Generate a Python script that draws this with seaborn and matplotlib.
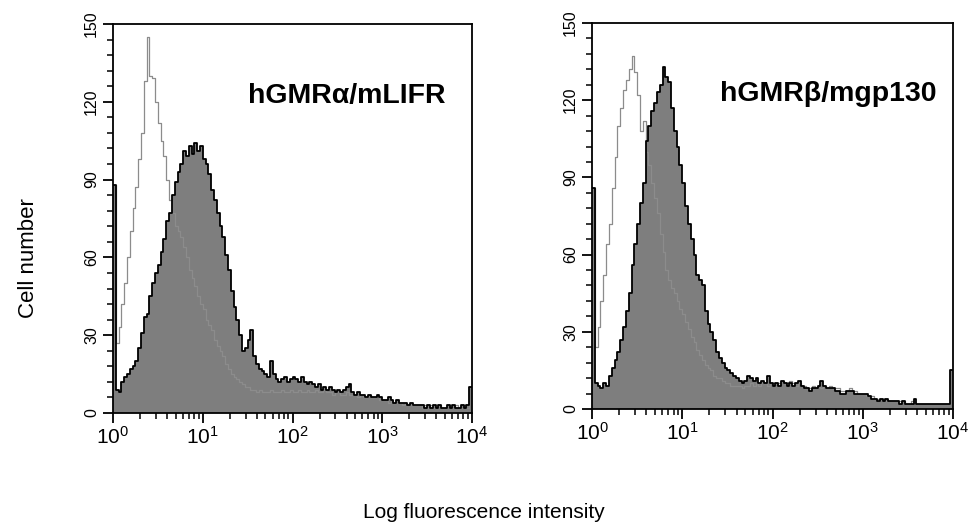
import numpy as np
import seaborn as sns
import matplotlib.pyplot as plt
from matplotlib.ticker import MultipleLocator, LogLocator

# counts per channel, 32 channels per decade, 10^0 .. 10^4
alpha_stained = [
    88, 9, 8, 12, 14, 15, 17, 18, 20, 25, 31, 37, 38, 45, 50, 54,
    57, 62, 67, 74, 77, 84, 89, 93, 96, 101, 99, 103, 100, 104, 101, 103,
    98, 96, 92, 86, 82, 77, 72, 68, 61, 55, 47, 41, 36, 30, 24, 25,
    28, 32, 22, 19, 17, 16, 15, 14, 20, 15, 13, 12, 13, 14, 12, 13,
    14, 13, 12, 14, 12, 11, 12, 11, 10, 11, 9, 10, 9, 10, 9, 8,
    9, 8, 9, 10, 11, 8, 7, 8, 7, 7, 6, 7, 6, 6, 7, 6,
    5, 5, 6, 5, 4, 5, 4, 4, 4, 3, 4, 3, 3, 3, 3, 2,
    3, 2, 3, 2, 3, 2, 2, 3, 2, 3, 2, 2, 3, 2, 3, 10,
]
alpha_control = [
    88, 27, 33, 42, 50, 60, 70, 79, 87, 98, 108, 128, 145, 130, 129, 120,
    112, 105, 99, 90, 82, 77, 72, 70, 68, 64, 60, 55, 52, 49, 45, 42,
    40, 36, 34, 32, 28, 26, 24, 22, 19, 17, 15, 14, 13, 12, 11, 10,
    10, 9, 9, 8, 9, 8, 8, 8, 9, 8, 8, 8, 9, 8, 8, 9,
    8, 8, 9, 8, 8, 9, 8, 8, 9, 8, 8, 9, 8, 8, 7, 8,
    8, 7, 7, 8, 7, 7, 7, 6, 7, 6, 6, 7, 6, 6, 6, 5,
    5, 5, 4, 5, 4, 4, 4, 3, 4, 3, 3, 3, 3, 3, 2, 3,
    2, 3, 2, 2, 3, 2, 2, 3, 2, 2, 3, 2, 2, 3, 2, 10,
]
beta_stained = [
    86, 10, 9, 8, 10, 9, 13, 16, 19, 22, 27, 32, 38, 45, 56, 64,
    72, 80, 88, 104, 110, 116, 119, 123, 126, 133, 129, 127, 117, 108, 102, 95,
    88, 79, 72, 66, 60, 52, 50, 48, 38, 33, 30, 27, 22, 20, 18, 16,
    15, 14, 13, 12, 11, 10, 11, 13, 12, 11, 12, 10, 11, 10, 13, 10,
    9, 10, 9, 11, 10, 9, 10, 9, 10, 11, 9, 8, 8, 7, 8, 8,
    9, 11, 9, 8, 8, 8, 7, 7, 6, 6, 7, 7, 7, 6, 6, 6,
    6, 6, 5, 4, 4, 3, 4, 3, 4, 3, 3, 3, 3, 2, 3, 2,
    2, 2, 4, 2, 2, 2, 2, 2, 2, 2, 2, 2, 2, 2, 2, 15,
]
beta_control = [
    86, 24, 32, 42, 52, 64, 72, 86, 98, 110, 117, 124, 128, 132, 137, 131,
    122, 108, 112, 100, 95, 88, 82, 76, 68, 61, 54, 50, 47, 45, 42, 39,
    37, 34, 31, 28, 26, 23, 21, 19, 17, 16, 15, 13, 12, 12, 11, 10,
    10, 9, 9, 9, 9, 8, 9, 9, 10, 9, 10, 9, 10, 10, 9, 10,
    10, 9, 10, 11, 10, 10, 11, 10, 9, 10, 9, 9, 8, 8, 9, 8,
    9, 8, 9, 8, 9, 8, 8, 8, 7, 7, 7, 8, 7, 7, 6, 6,
    6, 5, 5, 5, 4, 4, 4, 4, 3, 3, 3, 3, 3, 3, 3, 2,
    2, 3, 2, 2, 2, 2, 2, 2, 2, 2, 2, 2, 2, 2, 2, 15,
]
panel_labels = ["hGMR\u03b1/mLIFR", "hGMR\u03b2/mgp130"]
y_ticks = [0, 30, 60, 90, 120, 150]

sns.set_style("ticks")
plt.rcParams["font.family"] = ["Liberation Sans", "DejaVu Sans"]
plt.rcParams["mathtext.fontset"] = "custom"
plt.rcParams["mathtext.rm"] = "Liberation Sans"
plt.rcParams["text.color"] = "black"
plt.rcParams["xtick.color"] = "black"
plt.rcParams["ytick.color"] = "black"

fig = plt.figure(figsize=(9.75, 5.29), dpi=100)
ax1 = fig.add_axes([0.1159, 0.2193, 0.3682, 0.7353])
ax2 = fig.add_axes([0.6072, 0.2268, 0.3703, 0.7297])

edges = 10 ** (np.arange(129) / 32)

for ax, stained, control, label, lx in [
    (ax1, alpha_stained, alpha_control, panel_labels[0], 0.375),
    (ax2, beta_stained, beta_control, panel_labels[1], 0.355),
]:
    ys = np.append(stained, stained[-1])
    yc = np.append(control, control[-1])
    ax.fill_between(edges, ys, step="post", color="#7e7e7e", lw=0, zorder=1)
    sns.lineplot(x=edges, y=yc, drawstyle="steps-post", color="#8c8c8c",
                 lw=0.9, ax=ax, zorder=2)
    sns.lineplot(x=edges, y=ys, drawstyle="steps-post", color="black",
                 lw=1.3, ax=ax, zorder=3)
    ax.set_xscale("log")
    ax.set_xlim(1, 1e4)
    ax.set_ylim(0, 150)
    ax.set_yticks(y_ticks)
    ax.yaxis.set_minor_locator(MultipleLocator(6))
    ax.xaxis.set_major_locator(LogLocator(base=10, numticks=10))
    ax.xaxis.set_minor_locator(LogLocator(base=10, subs=np.arange(2, 10), numticks=10))
    ax.tick_params(axis="both", which="major", direction="out", length=7,
                   width=1.3)
    ax.tick_params(axis="both", which="minor", direction="out", length=4.5,
                   width=1.1)
    ax.tick_params(axis="x", which="major", labelsize=15, pad=2)
    ax.tick_params(axis="y", which="major", labelsize=11.5, pad=3)
    for t in ax.get_yticklabels():
        t.set_rotation(90)
        t.set_va("center")
    for s in ax.spines.values():
        s.set_visible(True)
        s.set_linewidth(1.3)
        s.set_color("black")
    ax.set_xlabel("")
    ax.set_ylabel("")
    ax.text(lx, 0.815, label, transform=ax.transAxes, fontsize=20.5,
            fontweight="bold", va="center", ha="left", color="black",
            family=["Liberation Sans", "DejaVu Sans"])

fig.text(0.029, 0.512, "Cell number", rotation=90, fontsize=16,
         ha="center", va="center")
fig.text(0.496, 0.032, "Log fluorescence intensity", fontsize=15,
         ha="center", va="center")

fig.savefig("out.png", dpi=100)
